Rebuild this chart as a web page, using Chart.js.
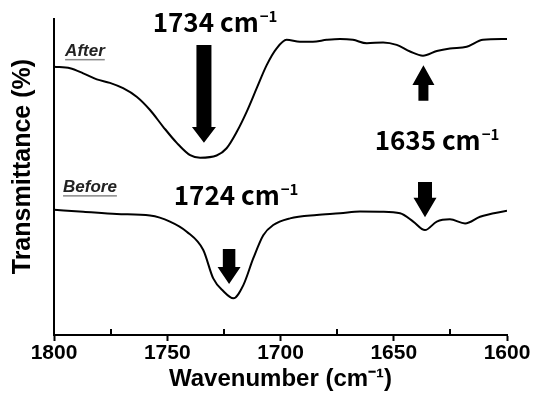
<!DOCTYPE html>
<html><head><meta charset="utf-8">
<script src="https://cdn.jsdelivr.net/npm/chart.js@4/dist/chart.umd.min.js"></script>
<style>html,body{margin:0;padding:0;background:#fff}</style>
</head><body>
<canvas id="c" width="533" height="399" style="width:533px;height:399px;display:block"></canvas>
<script>
// ---- data ----
const wavenumberAfter = [1800,1792.9,1787.1,1781.1,1775.3,1769.5,1763.5,1757.6,1751.8,1745.8,1739.9,1735.5,1728.2,1723.8,1719.3,1714.9,1710.5,1706.1,1701.7,1697.3,1691.4,1685.7,1679.6,1673.7,1668.0,1661.9,1654.7,1648.7,1642.8,1637.1,1631.0,1625.2,1617.8,1610.6,1600];
const transmittanceAfter = [84.9,84.4,82.8,80.9,79.8,78.1,75.4,71.2,65.9,60.8,56.9,56.1,56.8,59.1,64.3,70.7,78.1,85.4,90.7,93.4,92.8,92.8,93.4,93.7,93.4,92.3,92.6,91.8,89.7,88.4,89.9,90.7,91.2,93.4,93.7];
const wavenumberBefore = [1800,1787.1,1772.3,1757.6,1748.8,1741.4,1734.1,1729.7,1725.3,1720.8,1716.4,1712.0,1707.6,1703.2,1695.8,1684.0,1673.7,1664.9,1656.1,1647.2,1641.4,1636.2,1631.0,1625.2,1618.5,1611.9,1600];
const transmittanceBefore = [39.6,39.0,38.3,37.8,35.9,32.7,26.9,17.9,13.9,11.6,15.8,24.3,31.6,34.8,36.9,38.0,38.5,39.1,39.0,38.5,35.9,33.2,35.9,36.6,35.3,37.4,39.3];
const xTickValues = [1800,1750,1700,1650,1600];
const seriesNames = ['After','Before'];
const peakNames = ['1734 cm','1724 cm','1635 cm'];

const toPts = (xs, ys) => xs.map((x, i) => ({x, y: ys[i]}));

const annot = {
  id: 'annot',
  afterDatasetsDraw(chart) {
    const {ctx, scales: {x, y}} = chart;
    const px = v => x.getPixelForValue(v);
    const py = v => y.getPixelForValue(v);
    ctx.save();
    ctx.fillStyle = '#000';
    // arrows: [wavenumber, tail, headBase, tip, shaftW, headW]
    const arrows = [
      [1733.8, 91.8, 65.8, 60.8, 15, 24],
      [1722.7, 27.2, 21.5, 16.1, 12.5, 23],
      [1636.9, 74.1, 79.1, 85.4, 10, 22],
      [1636.2, 48.4, 43.4, 37.3, 14, 23]
    ];
    arrows.forEach(([w, t, hb, tip, sw, hw]) => {
      const cx = px(w), yt = py(t), yb = py(hb), yp = py(tip);
      ctx.beginPath();
      ctx.moveTo(cx - sw/2, yt);
      ctx.lineTo(cx + sw/2, yt);
      ctx.lineTo(cx + sw/2, yb);
      ctx.lineTo(cx + hw/2, yb);
      ctx.lineTo(cx, yp);
      ctx.lineTo(cx - hw/2, yb);
      ctx.lineTo(cx - sw/2, yb);
      ctx.closePath();
      ctx.fill();
    });
    // peak labels with superscript
    const labelPos = [[1728.9, 99.1], [1719.6, 44.3], [1630.9, 61.7]];
    const mainFont = 'bold 26px "Noto Sans CJK KR", "Noto Sans", sans-serif';
    const supFont = 'bold 15px "Noto Sans CJK KR", "Noto Sans", sans-serif';
    peakNames.forEach((txt, i) => {
      ctx.font = mainFont;
      const w1 = ctx.measureText(txt).width;
      ctx.font = supFont;
      const w2 = ctx.measureText('\u22121').width;
      const cx = px(labelPos[i][0]), cy = py(labelPos[i][1]);
      const x0 = cx - (w1 + w2 + 1) / 2;
      ctx.textBaseline = 'middle';
      ctx.textAlign = 'left';
      ctx.font = mainFont;
      ctx.fillText(txt, x0, cy);
      ctx.font = supFont;
      ctx.fillText('\u22121', x0 + w1 + 1, cy - 6);
    });
    // series labels
    const seriesPos = [[1795.1, 89.9], [1796.0, 46.8]];
    ctx.font = 'italic bold 17px "Liberation Sans", Arial, sans-serif';
    seriesNames.forEach((txt, i) => {
      const lx = px(seriesPos[i][0]), ly = py(seriesPos[i][1]);
      ctx.fillStyle = '#222';
      ctx.textAlign = 'left';
      ctx.textBaseline = 'middle';
      ctx.fillText(txt, lx, ly);
      const w = ctx.measureText(txt).width;
      ctx.fillStyle = '#888';
      ctx.fillRect(lx, ly + 8, w, 1.5);
    });
    ctx.restore();
  },
  afterDraw(chart) {
    // minor ticks (inside) at 25 intervals
    const {ctx, scales: {x}} = chart;
    ctx.save();
    ctx.strokeStyle = '#000';
    ctx.lineWidth = 2;
    [1775, 1725, 1675, 1625].forEach(v => {
      const xx = Math.round(x.getPixelForValue(v));
      ctx.beginPath();
      ctx.moveTo(xx, x.top);
      ctx.lineTo(xx, x.top - 6);
      ctx.stroke();
    });
    ctx.restore();
  }
};

new Chart(document.getElementById('c'), {
  type: 'line',
  data: {
    datasets: [
      {label: seriesNames[0], data: toPts(wavenumberAfter, transmittanceAfter)},
      {label: seriesNames[1], data: toPts(wavenumberBefore, transmittanceBefore)}
    ].map(d => Object.assign(d, {borderColor: '#000', borderWidth: 2, pointRadius: 0, cubicInterpolationMode: 'monotone', fill: false}))
  },
  options: {
    responsive: false,
    animation: false,
    devicePixelRatio: 1,
    layout: {padding: {top: 19, right: 26, left: 0, bottom: 0}},
    plugins: {legend: {display: false}, tooltip: {enabled: false}},
    scales: {
      x: {
        type: 'linear', min: 1600, max: 1800, reverse: true,
        afterBuildTicks: s => { s.ticks = xTickValues.map(v => ({value: v})); },
        afterFit: s => { s.height = 64; s.paddingLeft = 0; s.paddingRight = 0; },
        ticks: {color: '#000', padding: 0, maxRotation: 0, callback: v => String(v), font: {family: '"Liberation Sans", Arial, sans-serif', size: 21, weight: 'bold'}},
        grid: {drawOnChartArea: false, drawTicks: true, tickLength: 6, tickWidth: 2, tickColor: '#000'},
        border: {display: true, color: '#000', width: 2},
        title: {display: true, text: 'Wavenumber (cm\u207B\u00B9)', color: '#000', padding: {top: 0, bottom: 5}, font: {family: '"Liberation Sans", Arial, sans-serif', size: 24, weight: 'bold'}}
      },
      y: {
        min: 0, max: 100,
        afterFit: s => { s.width = 54; },
        ticks: {display: false},
        grid: {display: false},
        border: {display: true, color: '#000', width: 2},
        title: {display: true, text: '   Transmittance (%)', color: '#000', padding: {top: 8, bottom: 0}, font: {family: '"Liberation Sans", Arial, sans-serif', size: 25, weight: 'bold'}}
      }
    }
  },
  plugins: [annot]
});
</script>
</body></html>
